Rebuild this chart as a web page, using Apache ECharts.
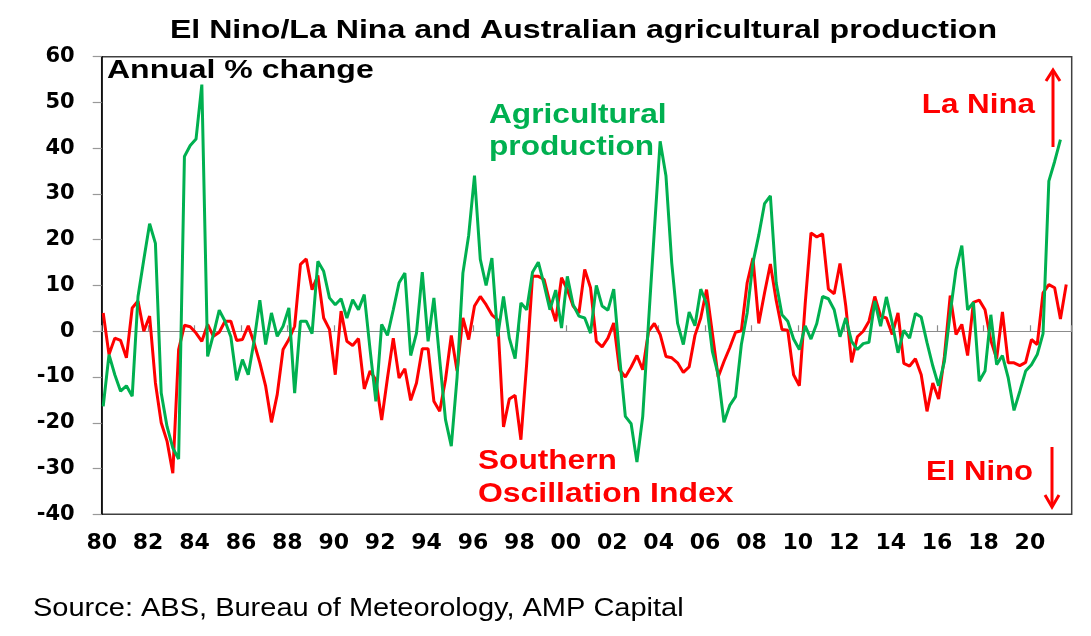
<!DOCTYPE html>
<html>
<head>
<meta charset="utf-8">
<script src="https://cdn.jsdelivr.net/npm/echarts@6/dist/echarts.min.js"></script>
<style>
  html, body { margin: 0; padding: 0; background: #fff; }
  #chart { width: 1091px; height: 636px; }
</style>
</head>
<body>
<div id="chart"></div>
<script>
// quarterly observations, first one in early 1980
const firstQuarter = 1980.065;

// Southern Oscillation Index, annual % change style scale (quarterly)
const soi = [
  4.0, -5.1, -1.5, -2.0, -5.8, 5.1, 6.6, 0.0, 3.3, -11.3,
  -20.0, -24.0, -31.0, -4.0, 1.3, 1.0, -0.4, -2.2, 1.5, -1.1,
  -0.2, 2.2, 2.2, -2.0, -1.8, 1.2, -2.5, -6.9, -12.0, -19.9,
  -13.8, -4.0, -1.8, 1.1, 14.6, 15.8, 9.1, 12.2, 2.9, 0.4,
  -9.5, 4.4, -2.2, -3.1, -1.6, -12.6, -8.7, -10.6, -19.4, -10.2,
  -1.5, -10.2, -8.2, -15.1, -11.3, -3.8, -3.8, -15.3, -17.5, -10.6,
  -0.9, -8.7, 2.9, -1.8, 5.5, 7.6, 5.8, 3.6, 2.5, -20.9,
  -14.8, -14.0, -23.7, -7.0, 12.0, 12.0, 11.3, 6.2, 2.2, 11.7,
  9.1, 5.5, 4.0, 13.5, 9.5, -2.2, -3.4, -1.5, 1.8, -8.4,
  -10.0, -7.8, -5.3, -8.4, 0.0, 1.7, -0.7, -5.5, -5.8, -6.9,
  -9.0, -7.8, -0.9, 2.9, 9.1, -0.4, -10.0, -6.6, -3.6, -0.2,
  0.1, 10.6, 16.0, 1.7, 8.4, 14.7, 6.8, 0.4, 0.2, -9.5,
  -11.9, 6.0, 21.5, 20.6, 21.3, 9.2, 8.2, 14.8, 5.5, -6.8,
  -1.2, 0.0, 2.2, 7.6, 3.3, 2.9, -0.7, 4.0, -7.0, -7.6,
  -6.0, -9.5, -17.5, -11.3, -14.8, -5.5, 7.8, -0.7, 1.5, -5.3,
  6.3, 6.8, 4.7, -2.0, -6.0, 4.2, -6.9, -6.9, -7.5, -6.8,
  -1.8, -2.9, 8.4, 10.2, 9.5, 2.7, 10.2
];

// Agricultural production, annual % change (quarterly)
const agri = [
  -16.4, -5.1, -9.5, -13.1, -11.9, -14.2, 7.6, 15.7, 23.5, 19.2,
  -13.5, -20.8, -25.5, -27.9, 38.2, 40.6, 42.0, 53.9, -5.5, -0.7,
  4.6, 2.2, -1.2, -10.7, -6.2, -9.5, -2.2, 6.8, -2.9, 4.0,
  -1.1, 1.1, 5.1, -13.5, 2.2, 2.2, -0.5, 15.3, 13.1, 7.3,
  5.8, 7.1, 2.9, 6.9, 4.7, 8.0, -4.0, -15.3, 1.5, -0.9,
  4.7, 10.6, 12.7, -5.3, -0.4, 12.9, -2.2, 7.3, -6.2, -19.3,
  -25.1, -10.0, 12.7, 21.0, 34.0, 15.7, 10.0, 16.0, -1.1, 7.6,
  -1.5, -6.0, 6.2, 4.7, 12.9, 15.1, 10.2, 4.7, 9.0, 0.7,
  12.0, 5.8, 3.3, 2.9, -0.4, 10.0, 5.5, 4.6, 9.2, -5.5,
  -18.6, -20.2, -28.6, -18.6, 2.0, 22.0, 41.5, 34.0, 14.9, 1.8,
  -2.9, 4.2, 1.2, 9.2, 6.0, -4.4, -9.5, -19.9, -16.2, -14.3,
  -2.9, 4.0, 15.0, 21.0, 27.9, 29.6, 10.6, 3.6, 2.2, -1.7,
  -4.0, 1.2, -1.7, 1.7, 7.6, 7.1, 4.7, -1.2, 2.9, -2.2,
  -4.0, -2.7, -2.4, 6.6, 1.1, 7.5, 1.8, -4.7, 0.2, -1.5,
  3.9, 3.1, -2.5, -7.6, -11.9, -6.6, 4.0, 13.5, 18.7, 4.7,
  6.3, -10.9, -8.7, 3.6, -7.3, -5.3, -10.2, -17.3, -13.1, -8.7,
  -7.3, -5.1, -0.5, 32.8, 37.1, 41.9
];

const RED = '#FF0000';
const GREEN = '#00B050';
const FONT = '"Liberation Sans", Arial, sans-serif';
const AXIS_FONT = '"DejaVu Sans", Arial, sans-serif';

const toPoints = arr => arr.map((v, i) => [firstQuarter + i / 4, v]);

// text stretched horizontally like the original picture
function txt(text, x, y, size, color, sx, align, weight) {
  return {
    type: 'text', x: x, y: y, scaleX: sx, silent: true,
    style: {
      text: text, fill: color, align: align || 'left', verticalAlign: 'middle',
      font: (weight || 'bold') + ' ' + size + 'px ' + FONT
    }
  };
}

function arrow(points) {
  return {
    type: 'polyline', silent: true,
    shape: { points: points },
    style: { stroke: RED, lineWidth: 3, fill: null }
  };
}

const chart = echarts.init(document.getElementById('chart'));

chart.setOption({
  animation: false,
  backgroundColor: '#fff',
  grid: {
    left: 101.7, right: 19.3, top: 56.7, bottom: 121.7,
    show: true, borderColor: '#404040', borderWidth: 1.5, backgroundColor: 'transparent'
  },
  xAxis: [
    {
      type: 'value', min: 1980, max: 2021.8, interval: 2, position: 'bottom',
      axisLine: { onZero: true, lineStyle: { color: '#8c8c8c', width: 1.2 } },
      axisTick: { show: true, inside: true, length: 6, lineStyle: { color: '#8c8c8c', width: 1.2 } },
      axisLabel: { show: false },
      splitLine: { show: false }
    },
    {
      type: 'value', min: 1980, max: 2021.8, interval: 2, position: 'bottom',
      axisLine: { show: false, onZero: false },
      axisTick: { show: false },
      splitLine: { show: false },
      axisLabel: {
        margin: 18, showMaxLabel: false,
        color: '#000', fontWeight: 'bold', fontSize: 22, fontFamily: AXIS_FONT,
        formatter: v => (v % 1 ? '' : String(v % 100).padStart(2, '0'))
      }
    }
  ],
  yAxis: {
    type: 'value', min: -40, max: 60, interval: 10,
    axisLine: { show: true, lineStyle: { color: '#000', width: 1.5 } },
    axisTick: { show: true, inside: false, length: 9, lineStyle: { color: '#999', width: 1.2 } },
    splitLine: { show: false },
    axisLabel: {
      margin: 27, color: '#000', fontWeight: 'bold', fontSize: 21, fontFamily: AXIS_FONT
    }
  },
  series: [
    {
      name: 'Southern Oscillation Index', type: 'line', xAxisIndex: 0,
      data: toPoints(soi), showSymbol: false, symbol: 'none',
      lineStyle: { color: RED, width: 3 }, z: 2
    },
    {
      name: 'Agricultural production', type: 'line', xAxisIndex: 0,
      data: toPoints(agri), showSymbol: false, symbol: 'none',
      lineStyle: { color: GREEN, width: 3 }, z: 3
    }
  ],
  graphic: [
    txt('El Nino/La Nina and Australian agricultural production', 583.5, 31, 26, '#000', 1.234, 'center'),
    txt('Annual % change', 107, 71, 25, '#000', 1.28),
    txt('Agricultural', 489, 115, 28, GREEN, 1.13),
    txt('production', 489, 147, 28, GREEN, 1.13),
    txt('Southern', 478, 461, 28, RED, 1.13),
    txt('Oscillation Index', 478, 494, 28, RED, 1.14),
    txt('La Nina', 1035, 105, 28, RED, 1.12, 'right'),
    txt('El Nino', 1033, 472, 28, RED, 1.11, 'right'),
    txt('Source: ABS, Bureau of Meteorology, AMP Capital', 33, 609, 25, '#000', 1.16, 'left', 'normal'),
    arrow([[1053, 147], [1053, 71]]),
    arrow([[1046, 81], [1053, 70], [1060, 81]]),
    arrow([[1052, 447], [1052, 506]]),
    arrow([[1045, 495], [1052, 507], [1059, 495]])
  ]
});
</script>
</body>
</html>
